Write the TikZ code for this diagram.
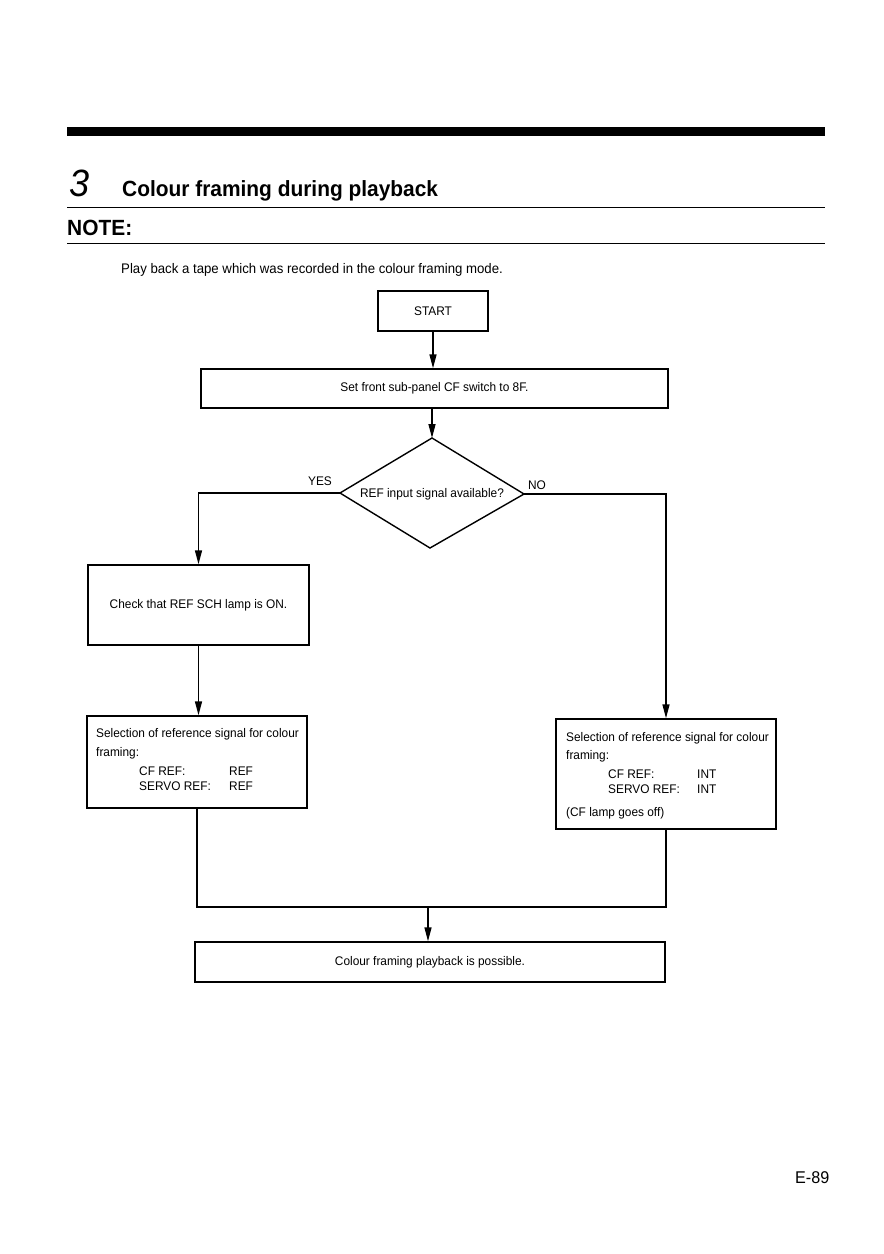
\documentclass[tikz,border=0pt]{standalone}
\usepackage{fontspec}
\setmainfont{Liberation Sans}[FakeStretch=0.95]
\usetikzlibrary{arrows.meta}
\begin{document}
\begin{tikzpicture}[x=1pt,y=-1pt,
  box/.style={draw,line width=1.4pt,inner sep=0pt,font=\fontsize{12.5}{14}\selectfont},
  txt/.style={inner sep=0pt,font=\fontsize{12.5}{14}\selectfont},
  conn/.style={line width=1.4pt},
  arr/.style={line width=1.4pt,-{Stealth[length=14pt,width=7pt,inset=0pt]}}]
\useasboundingbox (0,0) rectangle (884,1254);
% header
\fill (67,127) rectangle (825,136);
\node[anchor=base west,inner sep=0pt,font=\fontsize{38}{40}\selectfont\itshape] (num) at (69,196) {3};
\node[anchor=base west,inner sep=0pt,font=\fontsize{22}{24}\selectfont\bfseries] (title) at (122,196) {Colour framing during playback};
\draw[line width=0.9pt] (67,207) -- (825,207);
\node[anchor=base west,inner sep=0pt,font=\fontsize{22}{24}\selectfont\bfseries] (note) at (67,235) {NOTE:};
\draw[line width=0.9pt] (67,243) -- (825,243);
\node[anchor=base west,inner sep=0pt,font=\fontsize{13.9}{15}\selectfont] (play) at (121,273) {Play back a tape which was recorded in the colour framing mode.};
% nodes
\node[box,minimum width=110pt,minimum height=40pt] (start) at (433,311) {START};
\node[box,minimum width=467pt,minimum height=39pt] (set) at (434.5,388.5) {Set front sub-panel CF switch to 8F.};
% decision diamond
\coordinate (dtop) at (432,438);
\coordinate (dleft) at (340,493);
\coordinate (dright) at (524,494);
\coordinate (dbot) at (430,548);
\draw[line width=1.4pt,line join=miter] (dtop) -- (dright) -- (dbot) -- (dleft) -- cycle;
\node[txt] (dia) at (432,494) {REF input signal available?};
\node[txt,anchor=base] (yes) at (320,485) {YES};
\node[txt,anchor=base] (no) at (537,489) {NO};
\node[box,minimum width=221pt,minimum height=80pt] (check) at (198.5,605) {Check that REF SCH lamp is ON.};
% left selection
\node[box,minimum width=220pt,minimum height=92pt] (lsel) at (197,762) {};
\node[txt,anchor=base west] (l1) at (96,737) {Selection of reference signal for colour};
\node[txt,anchor=base west] (l2) at (96,756) {framing:};
\node[txt,anchor=base west] (l3) at (139,775) {CF REF:};
\node[txt,anchor=base west] (l4) at (229,775) {REF};
\node[txt,anchor=base west] (l5) at (139,790) {SERVO REF:};
\node[txt,anchor=base west] (l6) at (229,790) {REF};
% right selection
\node[box,minimum width=220pt,minimum height=110pt] (rsel) at (666,774) {};
\node[txt,anchor=base west] (r1) at (566,741) {Selection of reference signal for colour};
\node[txt,anchor=base west] (r2) at (566,759) {framing:};
\node[txt,anchor=base west] (r3) at (608,778) {CF REF:};
\node[txt,anchor=base west] (r4) at (697,778) {INT};
\node[txt,anchor=base west] (r5) at (608,793) {SERVO REF:};
\node[txt,anchor=base west] (r6) at (697,793) {INT};
\node[txt,anchor=base west] (r7) at (566,816) {(CF lamp goes off)};
% final
\node[box,minimum width=470pt,minimum height=40pt] (final) at (430,962) {Colour framing playback is possible.};
\coordinate (j) at (428,907);
% connectors
\draw[arr] (start.south) -- (start.south |- set.north);
\draw[arr] (dtop |- set.south) -- (dtop);
\draw[arr] (dleft) -| (check.north);
\draw[arr] (dright) -| (rsel.north);
\draw[arr] (check.south) -- (check.south |- lsel.north);
\draw[conn] (lsel.south) -- (lsel.south |- j) -- (rsel.south |- j) -- (rsel.south);
\draw[arr] (j) -- (j |- final.north);
% page number
\node[anchor=base west,inner sep=0pt,font=\fontsize{17}{18}\selectfont] (page) at (795,1183) {E-89};
\end{tikzpicture}
\end{document}
